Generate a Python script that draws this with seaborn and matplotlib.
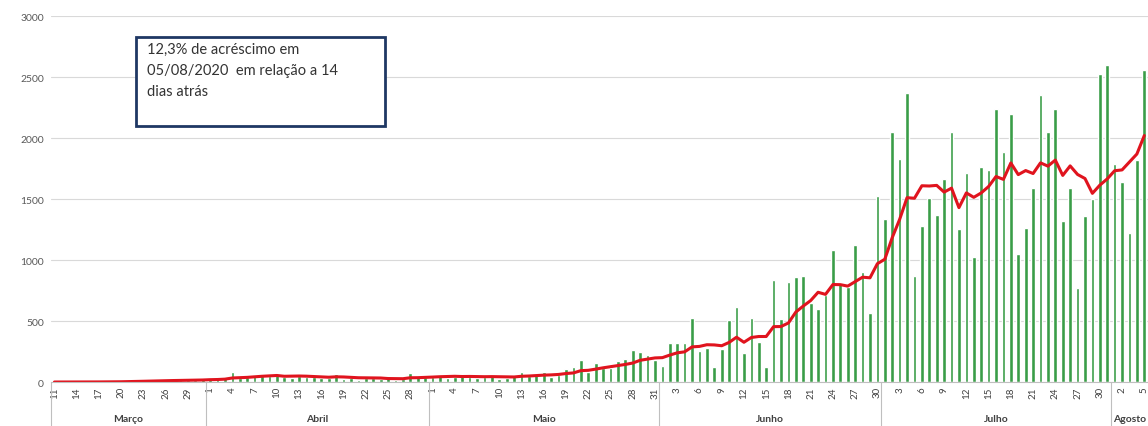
import matplotlib
matplotlib.use("Agg")
import matplotlib.pyplot as plt
import matplotlib.transforms as mtransforms
from matplotlib.patches import Rectangle
import numpy as np
import pandas as pd
import seaborn as sns

START_DATE = "2020-03-11"
END_DATE = "2020-08-05"

# novos registros diarios
MARCO = [0, 0, 1, 0, 1, 1, 2, 2, 3, 6, 8, 10, 12, 14, 12, 15, 14, 18, 15, 20, 22]
ABRIL = [30, 25, 35, 85, 30, 40, 55, 60, 50, 55, 40, 35, 50, 45, 40,
         35, 30, 65, 25, 30, 20, 35, 30, 25, 35, 20, 25, 74, 40, 45]
MAIO = [45, 55, 30, 40, 60, 45, 35, 40, 60, 25, 30, 55, 85, 50, 65, 85,
        40, 55, 107, 120, 180, 85, 153, 115, 118, 170, 188, 260, 243, 224, 180]
JUNHO = [134, 317, 317, 317, 527, 252, 276, 123, 270, 508, 615, 237, 527, 332, 123,
         835, 516, 820, 863, 870, 648, 598, 715, 1081, 812, 780, 1125, 905, 562, 1526]
JULHO = [1335, 2053, 1826, 2372, 871, 1280, 1512, 1370, 1668, 2053, 1253, 1717, 1026,
         1764, 1739, 2241, 1889, 2195, 1048, 1259, 1594, 2351, 2053, 2236, 1316, 1594,
         767, 1362, 1499, 2522, 2596]
AGOSTO = [1785, 1641, 1220, 1821, 2558]

MONTH_NAMES = {3: "Março", 4: "Abril", 5: "Maio", 6: "Junho", 7: "Julho", 8: "Agosto"}
NOTE = "12,3% de acréscimo em\n05/08/2020  em relação a 14\ndias atrás"
MOVING_WINDOW = 7


def main():
    sns.set_theme(style="white")
    plt.rcParams["font.family"] = ["Lato", "DejaVu Sans"]

    dates = pd.date_range(START_DATE, END_DATE, freq="D")
    values = MARCO + ABRIL + MAIO + JUNHO + JULHO + AGOSTO
    df = pd.DataFrame({"date": dates, "novos": values})
    df["pos"] = np.arange(len(df))
    df["media"] = df["novos"].rolling(MOVING_WINDOW, min_periods=1).mean()

    fig = plt.figure(figsize=(11.48, 4.27), dpi=100)
    ax = fig.add_axes([0.0442, 0.103, 0.9558, 0.857])

    sns.barplot(data=df, x="pos", y="novos", color="#3a9d48", width=0.5,
                saturation=1, ax=ax)
    sns.lineplot(data=df, x="pos", y="media", color="#e0141e", linewidth=2.2, ax=ax)

    ax.set_xlim(-0.5, len(df) - 0.5)
    ax.set_ylim(0, 3000)
    ax.set_yticks(range(0, 3001, 500))
    ax.set_xlabel("")
    ax.set_ylabel("")

    ax.set_xticks(df["pos"][::3])
    ax.set_xticklabels(df["date"].dt.day[::3].astype(str), rotation=90,
                       fontsize=7, color="#404040")
    ax.set_xticks(np.arange(-0.5, len(df), 1), minor=True)
    ax.tick_params(axis="x", which="major", length=0, pad=3)
    ax.tick_params(axis="x", which="minor", length=4, color="#bfbfbf", width=0.6)
    ax.tick_params(axis="y", length=0, labelsize=7.5, labelcolor="#595959", pad=5)

    ax.yaxis.grid(True, color="#d9d9d9", linewidth=0.8)
    ax.set_axisbelow(True)
    for side in ["top", "right", "left"]:
        ax.spines[side].set_visible(False)
    ax.spines["bottom"].set_color("#bfbfbf")
    ax.spines["bottom"].set_linewidth(0.8)

    # second level of the category axis: months
    trans = mtransforms.blended_transform_factory(ax.transData, ax.transAxes)
    for month, grp in df.groupby(df["date"].dt.month)["pos"]:
        first, last = grp.min(), grp.max()
        ax.plot([first - 0.5, first - 0.5], [0, -0.125], transform=trans,
                color="#bfbfbf", lw=0.8, clip_on=False)
        ax.text((first + last) / 2, -0.101, MONTH_NAMES[month], transform=trans,
                ha="center", va="center", fontsize=7.5, fontweight="bold",
                color="#404040")

    fig.add_artist(Rectangle((0.1185, 0.7026), 0.2169, 0.2084, transform=fig.transFigure,
                             facecolor="white", edgecolor="#1f3864", linewidth=2,
                             zorder=5))
    fig.text(0.128, 0.900, NOTE, ha="left", va="top", fontsize=10.5,
             color="#333333", linespacing=1.65, zorder=6)

    fig.savefig("out.png", dpi=100)
    plt.close(fig)


if __name__ == "__main__":
    main()
